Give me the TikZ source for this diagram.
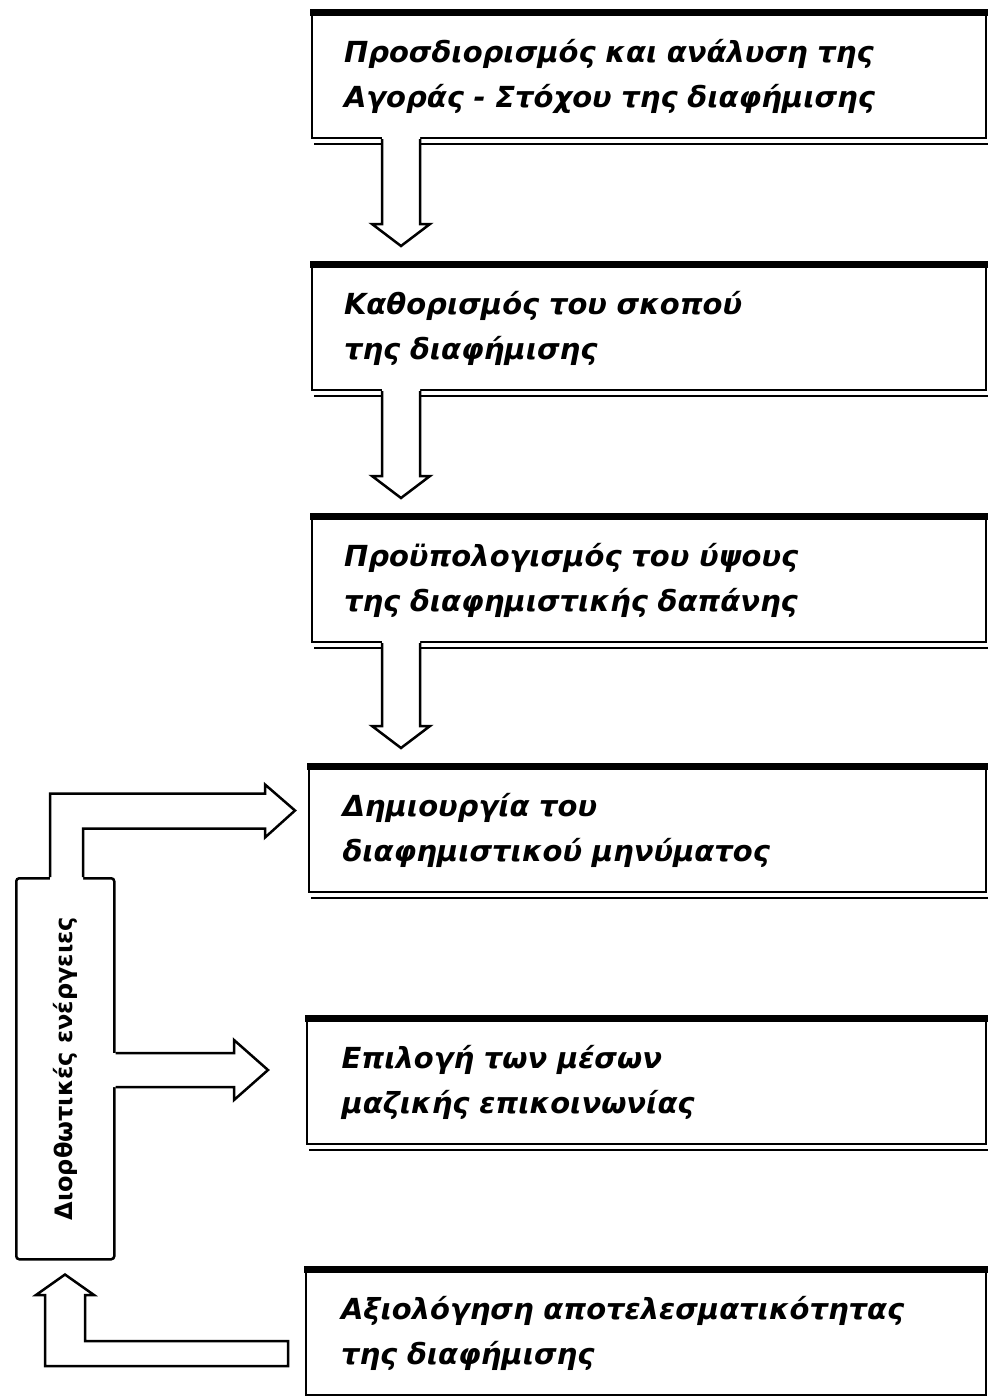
\documentclass[tikz,border=0pt]{standalone}
\usepackage{fontspec}
\setmainfont{DejaVu Sans}
\usetikzlibrary{calc}

% white block arrow running down from the bottom of one stage box towards the next
\newcommand\downblock[2]{%
  \path[blockfill] let \p1=(#1.south west), \p2=(#2.north west) in
    (\x1+71,\y1+3) -- (\x1+71,\y2+42) -- (\x1+61,\y2+42) -- (\x1+90,\y2+20)
    -- (\x1+119,\y2+42) -- (\x1+109,\y2+42) -- (\x1+109,\y1+3) -- cycle;
  \draw[blockline] let \p1=(#1.south west), \p2=(#2.north west) in
    (\x1+71,\y1) -- (\x1+71,\y2+42) -- (\x1+61,\y2+42) -- (\x1+90,\y2+20)
    -- (\x1+119,\y2+42) -- (\x1+109,\y2+42) -- (\x1+109,\y1);
}
% heavy top bar and shadow line under a stage box
\newcommand\boxtrim[1]{%
  \draw[line width=7pt] ($(#1.north west)+(-1,2)$) -- ($(#1.north east)+(1,2)$);
  \draw[line width=2.5pt] ($(#1.south west)+(3,-5)$) -- ($(#1.south east)+(1,-5)$);
}

\begin{document}
\begin{tikzpicture}[x=1pt,y=1pt,
  stagebox/.style={draw=black, line width=2pt, fill=white, anchor=north west,
    minimum width=674pt, minimum height=123pt, text width=610pt, align=left,
    inner sep=0pt, font=\fontsize{29}{45}\selectfont\bfseries\itshape},
  corrbox/.style={draw=black, line width=2.5pt, fill=white, anchor=north west,
    rounded corners=3pt, minimum width=98pt, minimum height=381pt, inner sep=0pt,
    font=\fontsize{24}{24}\selectfont\bfseries},
  blockfill/.style={fill=white},
  blockline/.style={draw=black, line width=2.5pt, line join=miter}]

\fill[white] (0,0) rectangle (988,-1398);
\useasboundingbox (0,0) rectangle (988,-1398);

% the six stages of the campaign
\node[stagebox] (b1) at (311,-14) {Προσδιορισμός και ανάλυση της\\Αγοράς - Στόχου της διαφήμισης};
\node[stagebox] (b2) at (311,-266) {Καθορισμός του σκοπού\\της διαφήμισης};
\node[stagebox] (b3) at (311,-518) {Προϋπολογισμός του ύψους\\της διαφημιστικής δαπάνης};
\node[stagebox, minimum width=677pt] (b4) at (308,-768) {Δημιουργία του\\διαφημιστικού μηνύματος};
\node[stagebox, minimum width=679pt] (b5) at (306,-1020) {Επιλογή των μέσων\\μαζικής επικοινωνίας};
\node[stagebox, minimum width=680pt] (b6) at (305,-1271) {Αξιολόγηση αποτελεσματικότητας\\της διαφήμισης};

\boxtrim{b1}
\boxtrim{b2}
\boxtrim{b3}
\boxtrim{b4}
\boxtrim{b5}
\boxtrim{b6}

% corrective actions column
\node[corrbox] (corr) at (15,-877) {\rotatebox{90}{Διορθωτικές ενέργειες}};

% flow between the first four stages
\downblock{b1}{b2}
\downblock{b2}{b3}
\downblock{b3}{b4}

% feedback to the message stage
\path[blockfill] let \p1=(corr.north west), \p2=(b4.west) in
  (\x1+35,\y1-3) -- (\x1+35,\y2+37) -- (\x2-43,\y2+37) -- (\x2-43,\y2+46)
  -- (\x2-13,\y2+20) -- (\x2-43,\y2-7) -- (\x2-43,\y2+2) -- (\x1+68,\y2+2)
  -- (\x1+68,\y1-3) -- cycle;
\draw[blockline] let \p1=(corr.north west), \p2=(b4.west) in
  (\x1+35,\y1) -- (\x1+35,\y2+37) -- (\x2-43,\y2+37) -- (\x2-43,\y2+46)
  -- (\x2-13,\y2+20) -- (\x2-43,\y2-7) -- (\x2-43,\y2+2) -- (\x1+68,\y2+2)
  -- (\x1+68,\y1);

% feedback to the media stage
\path[blockfill] let \p1=(corr.east), \p2=(b5.west) in
  (\x1-3,-1053) -- (\x2-72,-1053) -- (\x2-72,-1040) -- (\x2-38,-1070)
  -- (\x2-72,-1100) -- (\x2-72,-1087) -- (\x1-3,-1087) -- cycle;
\draw[blockline] let \p1=(corr.east), \p2=(b5.west) in
  (\x1,-1053) -- (\x2-72,-1053) -- (\x2-72,-1040) -- (\x2-38,-1070)
  -- (\x2-72,-1100) -- (\x2-72,-1087) -- (\x1,-1087);

% evaluation result fed back into the corrective actions
\filldraw[blockline, fill=white] let \p1=(corr.south west), \p2=(b6.west) in
  (\x2-17,-1341) -- (\x1+70,-1341) -- (\x1+70,-1295) -- (\x1+79,-1295)
  -- (\x1+50,\y1-14) -- (\x1+21,-1295) -- (\x1+30,-1295) -- (\x1+30,-1366)
  -- (\x2-17,-1366) -- cycle;

\end{tikzpicture}
\end{document}
